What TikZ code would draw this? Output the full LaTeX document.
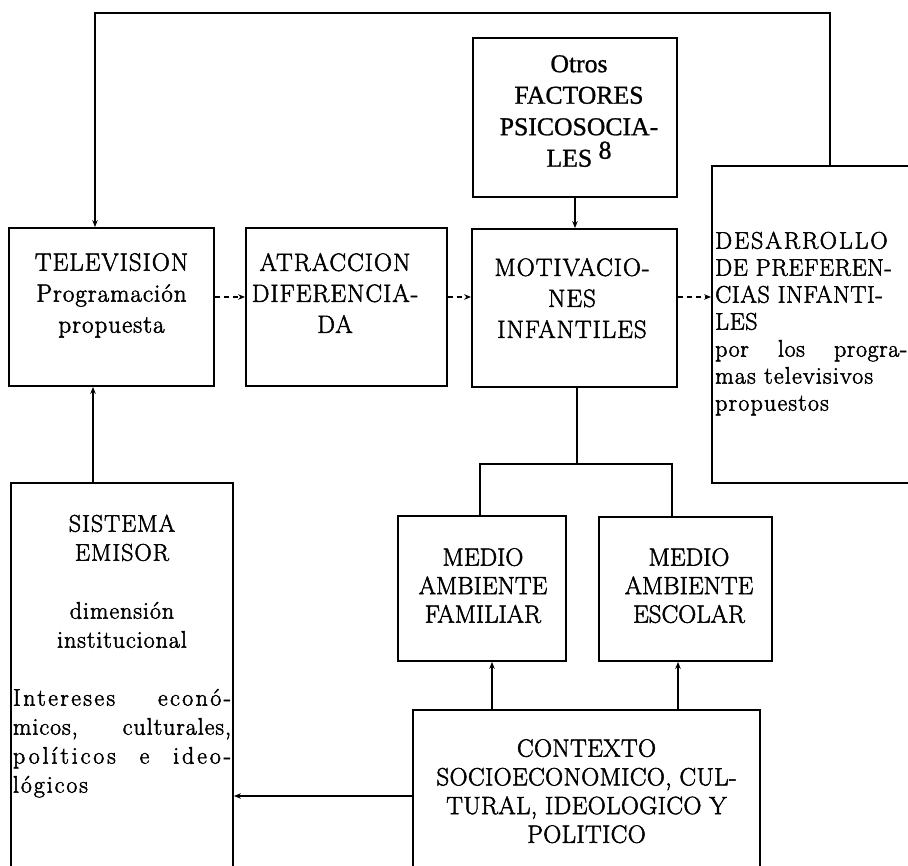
\documentclass[tikz,border=0pt]{standalone}
\usepackage{fontspec}
\setmainfont{Latin Modern Roman}[FakeBold=2.0]
\newfontfamily\timesf{Liberation Serif}[FakeBold=1.0]
\usetikzlibrary{arrows.meta}
\newcommand{\lsp}[1]{\addfontfeature{LetterSpace=#1}}
\begin{document}
\begin{tikzpicture}[x=1pt,y=-1pt,
  box/.style={draw, line width=1.8pt, inner sep=0pt, rectangle},
  lbl/.style={inner sep=0pt, align=center, font=\fontsize{25}{31}\selectfont\lsp{4}},
  lbllow/.style={inner sep=0pt, align=center, font=\fontsize{25}{28.5}\selectfont},
  conn/.style={line width=1.5pt},
  arr/.style={conn, -{Stealth[length=7pt,width=5.5pt]}},
  darr/.style={arr, dash pattern=on 5pt off 4pt},
]
\useasboundingbox (0,0) rectangle (908,866);
\clip (0,0) rectangle (908,866);

% boxes
\node[box, minimum width=205pt, minimum height=158pt] (tv) at (111.5,307) {};
\node[box, minimum width=201pt, minimum height=158pt] (atr) at (346.5,307) {};
\node[box, minimum width=205pt, minimum height=158pt] (mot) at (574.5,308) {};
\node[box, minimum width=204pt, minimum height=159pt] (otros) at (575,117.5) {};
\node[box, minimum width=218pt, minimum height=317pt] (des) at (821,324.5) {};
\node[box, minimum width=222pt, minimum height=417pt] (sis) at (122,691.5) {};
\node[box, minimum width=168pt, minimum height=145pt] (mfam) at (482,588.5) {};
\node[box, minimum width=173pt, minimum height=144pt] (mesc) at (685.5,589) {};
\node[box, minimum width=347pt, minimum height=190pt] (ctx) at (586.5,805) {};

% texts
\node[lbl, anchor=north] (tvt) at (111.5,253) {TELEVISION\\Programación\\propuesta};
\node[lbl, anchor=north] (atrt) at (335,253) {ATRACCION\\DIFERENCIA-\\DA};
\node[lbl, anchor=north] (mott) at (572,258) {MOTIVACIO-\\NES\\INFANTILES};
\node[inner sep=0pt, align=center, anchor=north, font=\timesf\fontsize{25.7}{31.5}\selectfont] (otrost) at (579,55)
  {Otros\\FACTORES\\PSICOSOCIA-\\LES \raisebox{8pt}{8}};
\node[inner sep=0pt, align=left, anchor=north west, font=\fontsize{24}{27}\selectfont\lsp{2.5}] (dest) at (715,231.5)
  {{\lsp{8}DESARROLLO}\\DE PREFEREN-\\CIAS INFANTI-\\LES\\\hbox to 192pt{por\hfill los\hfill progra-}\\{\lsp{5}mas televisivos}\\{\lsp{5}propuestos}};
\node[inner sep=0pt, align=center, anchor=north, font=\fontsize{24}{29}\selectfont\lsp{4}] (sist) at (122,514.5)
  {SISTEMA\\EMISOR\\[29pt]dimensión\\institucional\\[29pt]%
   \hbox to 218pt{\lsp{10}Intereses\hfill econó-}\\\hbox to 218pt{micos,\hfill culturales,}\\%
   \hbox to 218pt{\lsp{12}políticos\hfill e\hfill ideo-}\\\hbox to 218pt{\lsp{8}lógicos\hfill}};
\node[lbllow, anchor=north] (mfamt) at (483,548) {MEDIO\\AMBIENTE\\FAMILIAR};
\node[lbllow, anchor=north] (mesct) at (689,548) {MEDIO\\AMBIENTE\\ESCOLAR};
\node[inner sep=0pt, align=center, anchor=north, font=\fontsize{25}{28.7}\selectfont\lsp{1.5}] (ctxt) at (586.5,739)
  {CONTEXTO\\SOCIOECONOMICO, CUL-\\TURAL, IDEOLOGICO Y\\POLITICO};

% helper coordinates
\coordinate (tr) at (830,13);
\coordinate (tl) at (95,13);
\coordinate (st) at (93,0);
\coordinate (om) at (575,0);
\coordinate (dy) at (0,297);
\coordinate (j) at (577,464);
\coordinate (jl) at (480,464);
\coordinate (jr) at (672,464);
\coordinate (a1) at (492,0);
\coordinate (a2) at (678,0);
\coordinate (cy) at (0,796);

% connectors
\draw[arr] (des.north -| tr) -- (tr) -- (tl) -- (tl |- tv.north);
\draw[arr] (sis.north -| st) -- (tv.south -| st);
\draw[arr] (otros.south -| om) -- (mot.north -| om);
\draw[darr] (tv.east |- dy) -- (atr.west |- dy);
\draw[darr] (atr.east |- dy) -- (mot.west |- dy);
\draw[darr] (mot.east |- dy) -- (des.west |- dy);
\draw[conn] (mot.south -| j) -- (j);
\draw[conn] (jl |- mfam.north) -- (jl) -- (jr) -- (jr |- mesc.north);
\draw[arr] (ctx.north -| a1) -- (mfam.south -| a1);
\draw[arr] (ctx.north -| a2) -- (mesc.south -| a2);
\draw[arr] (ctx.west |- cy) -- (sis.east |- cy);
\end{tikzpicture}
\end{document}
